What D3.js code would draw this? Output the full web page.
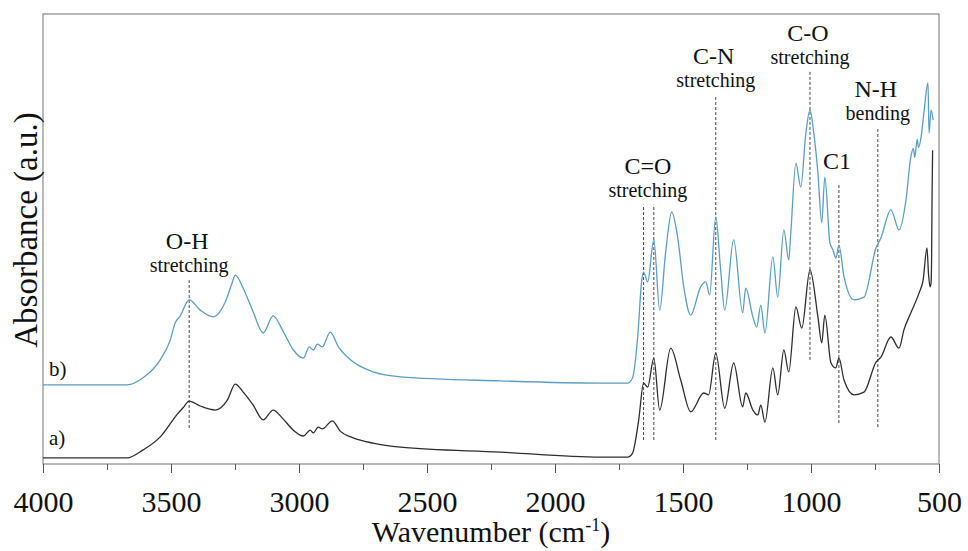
<!DOCTYPE html>
<html>
<head>
<meta charset="utf-8">
<script src="https://cdn.jsdelivr.net/npm/d3@7"></script>
<style>
  body { margin: 0; background: #fff; }
</style>
</head>
<body>
<script>
// spectrum a) : [wavenumber, absorbance]
var seriesA = [
  [4000, 0.9], [3777, 0.9], [3672, 0.9], [3609, 2.7], [3542, 5.6], [3492, 9.4],
  [3472, 10.9], [3453, 12.1], [3429, 13.6], [3386, 12.5], [3327, 11.6], [3280, 13.8],
  [3249, 17.4], [3218, 15.6], [3179, 12.7], [3140, 9.4], [3101, 11.6], [3065, 9.8],
  [3022, 7.1], [2983, 5.8], [2956, 7.1], [2944, 6.5], [2925, 7.8], [2909, 7.4],
  [2870, 9.2], [2839, 6.9], [2788, 5.4], [2710, 4.2], [2604, 3.3], [2213, 2.2],
  [1822, 1.1], [1716, 1.1], [1697, 2.0], [1673, 9.4], [1654, 17.6], [1638, 16.7],
  [1614, 23.2], [1591, 11.6], [1548, 25.4], [1509, 18.3], [1470, 11.2], [1419, 15.4],
  [1400, 15.0], [1372, 24.3], [1337, 12.0], [1302, 22.1], [1267, 12.3], [1255, 15.4],
  [1227, 11.6], [1208, 10.5], [1196, 12.7], [1180, 8.9], [1149, 21.0], [1130, 15.0],
  [1106, 25.0], [1087, 20.1], [1059, 34.6], [1036, 29.9], [1004, 42.9], [973, 32.4],
  [958, 26.6], [946, 32.8], [922, 22.1], [903, 21.0], [891, 23.2], [871, 18.3],
  [832, 15.0], [793, 15.6], [746, 22.3], [727, 23.4], [688, 27.9], [656, 25.4],
  [637, 29.5], [610, 33.3], [578, 37.7], [562, 40.6], [547, 47.8], [541, 42.0],
  [535, 39.1], [531, 40.0], [529, 45.0], [527, 60.0], [525, 69.6]
];

// spectrum b)
var seriesB = [
  [4000, 17.2], [3777, 17.2], [3672, 17.2], [3609, 18.8], [3542, 22.8], [3503, 27.2],
  [3484, 31.0], [3464, 32.6], [3429, 36.2], [3386, 33.9], [3335, 32.4], [3288, 35.7],
  [3261, 40.0], [3249, 41.7], [3218, 38.8], [3179, 33.5], [3140, 28.8], [3101, 32.6],
  [3065, 29.5], [3022, 25.0], [2983, 23.2], [2960, 25.7], [2944, 25.0], [2928, 26.3],
  [2909, 25.7], [2878, 29.0], [2846, 25.7], [2799, 22.8], [2710, 20.1], [2604, 19.0],
  [2213, 18.1], [1822, 17.6], [1716, 17.6], [1697, 18.8], [1677, 27.9], [1661, 40.6],
  [1654, 42.4], [1638, 40.2], [1614, 49.6], [1591, 33.9], [1568, 46.7], [1544, 55.8],
  [1521, 50.2], [1497, 39.1], [1470, 32.8], [1431, 39.1], [1411, 40.2], [1396, 37.3],
  [1372, 54.7], [1353, 42.9], [1337, 33.9], [1302, 49.6], [1267, 33.3], [1255, 38.8],
  [1227, 32.4], [1212, 30.1], [1196, 35.0], [1180, 28.8], [1149, 45.8], [1130, 36.8],
  [1106, 51.8], [1087, 45.1], [1079, 51.1], [1059, 66.7], [1040, 61.4], [1020, 73.4],
  [1004, 78.6], [989, 73.4], [973, 64.5], [958, 53.4], [946, 63.6], [926, 48.9],
  [914, 47.3], [903, 45.5], [891, 48.4], [871, 41.3], [832, 36.2], [793, 36.8],
  [746, 47.8], [727, 50.0], [688, 56.3], [656, 51.8], [629, 58.5], [610, 68.1],
  [600, 70.0], [595, 68.0], [585, 72.0], [580, 70.2], [570, 72.5], [559, 77.9],
  [543, 84.6], [539, 73.4], [531, 78.6], [523, 76.3]
];

var majorTicks = [4000, 3500, 3000, 2500, 2000, 1500, 1000, 500];
var minorTicks = [3750, 3250, 2750, 2250, 1750, 1250, 750];

// band markers: wavenumber, dashed line bottom/top (absorbance), label lines
var bands = [
  { wn: 3429, from: 7.6, to: 40.6, title: "O-H", sub: "stretching" },
  { wn: 1654, from: 4.9, to: 57.4, title: "", sub: "" },
  { wn: 1614, from: 4.9, to: 57.4, title: "C=O", sub: "stretching" },
  { wn: 1372, from: 4.9, to: 81.9, title: "C-N", sub: "stretching" },
  { wn: 1004, from: 22.8, to: 87.1, title: "C-O", sub: "stretching" },
  { wn: 891, from: 8.7, to: 62.3, title: "C1", sub: "" },
  { wn: 739, from: 7.8, to: 74.6, title: "N-H", sub: "bending" }
];

var serif = "'Liberation Serif', 'Times New Roman', Times, serif";
var W = 968, H = 551;
var margin = { top: 14, right: 29, bottom: 87, left: 43 };
var w = W - margin.left - margin.right, h = H - margin.top - margin.bottom;

var svg = d3.select("body").append("svg").attr("width", W).attr("height", H);
var g = svg.append("g").attr("transform", "translate(" + margin.left + "," + margin.top + ")");

var x = d3.scaleLinear().domain([4000, 500]).range([0, w]);
var y = d3.scaleLinear().domain([0, 100]).range([h - 2, 0]);

// frame
g.append("rect").attr("x", 0).attr("y", 0).attr("width", w).attr("height", h)
  .attr("fill", "none").attr("stroke", "#8a8a8a").attr("stroke-width", 1.2);

// axes
var axMinor = g.append("g").attr("transform", "translate(0," + h + ")")
  .call(d3.axisBottom(x).tickValues(minorTicks).tickSize(6).tickFormat(""));
var axMajor = g.append("g").attr("transform", "translate(0," + h + ")")
  .call(d3.axisBottom(x).tickValues(majorTicks).tickSize(9).tickFormat(d3.format("d")));
[axMinor, axMajor].forEach(function (a) {
  a.select(".domain").remove();
  a.selectAll("line").attr("stroke", "#555");
});
axMajor.selectAll("text").attr("y", 48).attr("dy", null)
  .style("font-size", "30px").attr("fill", "#111");

// axis titles
var xt = svg.append("text").attr("x", 491).attr("y", 542).attr("text-anchor", "middle")
  .style("font-size", "30px");
xt.append("tspan").text("Wavenumber (cm");
xt.append("tspan").text("-1").attr("dy", -11).style("font-size", "18px");
xt.append("tspan").text(")").attr("dy", 11);

svg.append("text").attr("transform", "translate(37,230) rotate(-90)")
  .attr("text-anchor", "middle").style("font-size", "33px").text("Absorbance (a.u.)");

// band markers
g.selectAll(".band").data(bands).enter().append("line")
  .attr("x1", function (d) { return x(d.wn); }).attr("x2", function (d) { return x(d.wn); })
  .attr("y1", function (d) { return y(d.from); }).attr("y2", function (d) { return y(d.to); })
  .attr("stroke", "#444").attr("stroke-width", 1).attr("stroke-dasharray", "3,2");

var labelled = bands.filter(function (d) { return d.title; });
g.selectAll(".bt").data(labelled).enter().append("text")
  .attr("x", function (d) { return x(d.wn) + (d.title == "C=O" ? -6 : -2); })
  .attr("y", function (d) { return y(d.to) - (d.sub ? 31 : 14); })
  .attr("text-anchor", "middle").style("font-size", "24px")
  .text(function (d) { return d.title; });
g.selectAll(".bs").data(labelled.filter(function (d) { return d.sub; })).enter().append("text")
  .attr("x", function (d) { return x(d.wn) + (d.title == "C=O" ? -6 : 0); })
  .attr("y", function (d) { return y(d.to) - 8; })
  .attr("text-anchor", "middle").style("font-size", "20px")
  .text(function (d) { return d.sub; });

// spectra
var line = d3.line().x(function (d) { return x(d[0]); }).y(function (d) { return y(d[1]); })
  .curve(d3.curveMonotoneX);
g.append("path").datum(seriesA).attr("d", line).attr("fill", "none")
  .attr("stroke", "#2e2e2e").attr("stroke-width", 1.3);
g.append("path").datum(seriesB).attr("d", line).attr("fill", "none")
  .attr("stroke", "#5a9ec4").attr("stroke-width", 1.3);

// series labels
g.append("text").attr("x", 6).attr("y", y(seriesB[0][1]) - 9).style("font-size", "21px").text("b)");
g.append("text").attr("x", 6).attr("y", y(seriesA[0][1]) - 13).style("font-size", "21px").text("a)");

svg.selectAll("text").style("font-family", serif).style("fill", "#111");
</script>
</body>
</html>
